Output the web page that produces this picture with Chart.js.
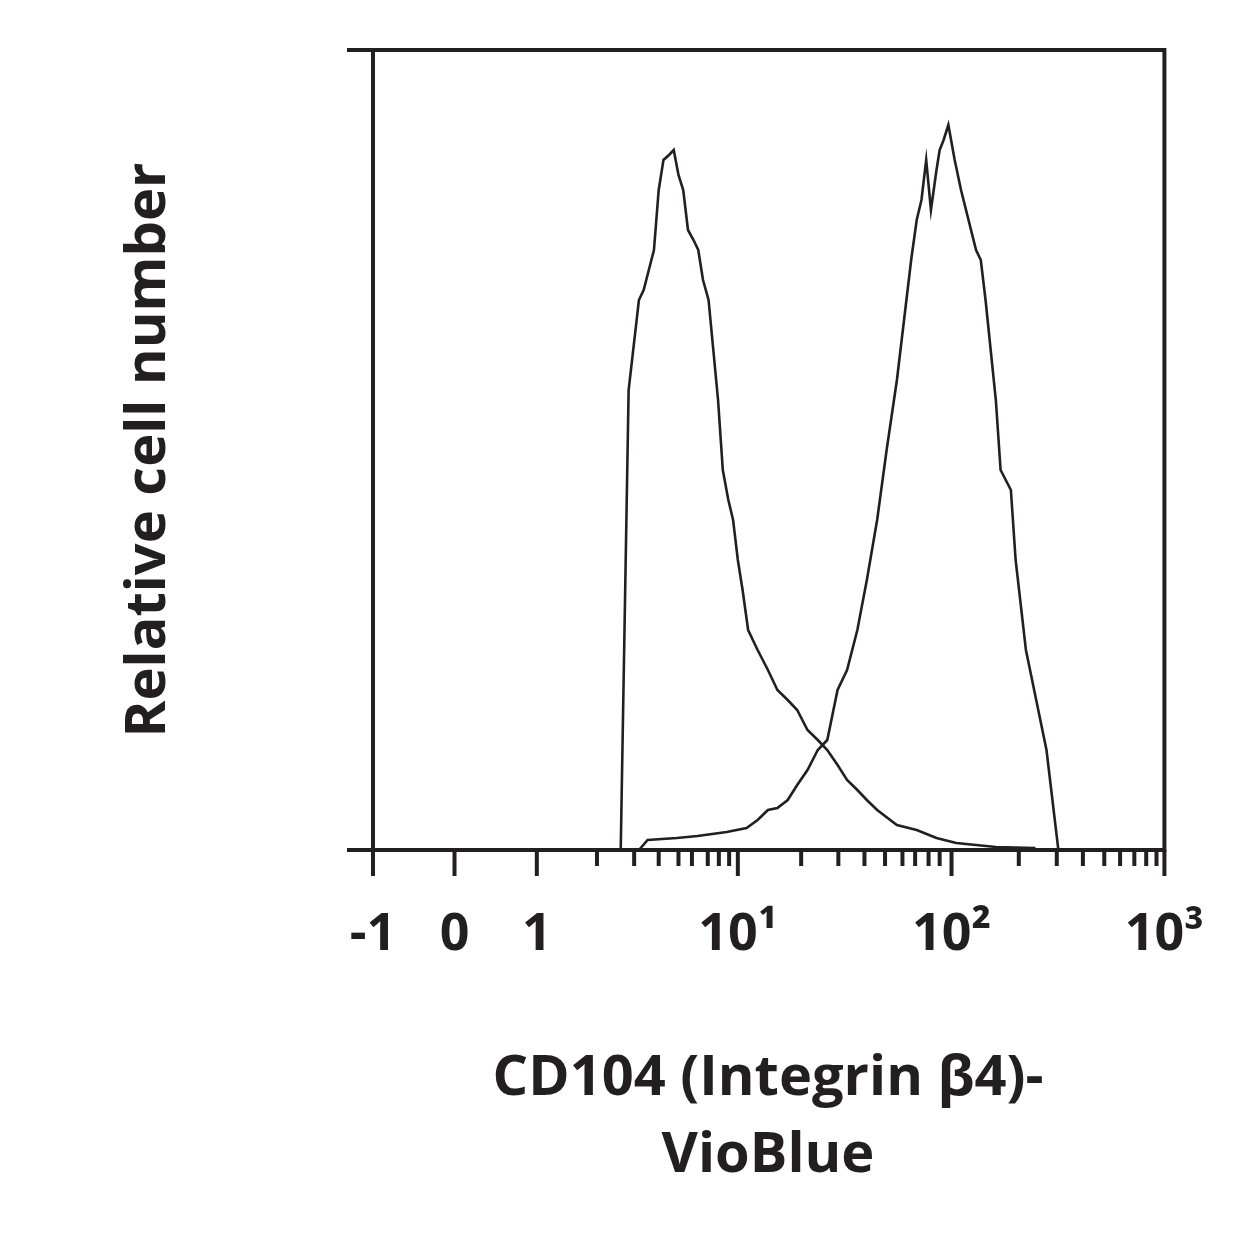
<!DOCTYPE html>
<html><head><meta charset="utf-8">
<script src="https://cdn.jsdelivr.net/npm/chart.js@4/dist/chart.umd.min.js"></script>
<style>body{margin:0;background:#fff}canvas{display:block}</style>
</head><body>
<div style="width:1250px;height:1250px"><canvas id="c"></canvas></div>
<script>
// x in display channels (biexponential axis rendered 0..1000), y in relative counts 0..800
const majorTicks = [0, 103, 207, 461, 731, 1000];
const majorLabels = ['-1', '0', '1', '10\u00B9', '10\u00B2', '10\u00B3'];
const minorTicks = [283, 330, 361, 386, 403, 423, 437, 450, 541, 588, 621, 647, 669, 685, 702, 716, 816, 864, 897, 924, 944, 962, 977, 990];

const unstainedX = [313, 323, 336, 342, 355, 361, 367, 374, 380, 386, 392, 398, 405, 411, 417, 424, 430, 436, 442, 449, 455, 461, 467, 474, 486, 499, 511, 524, 536, 549, 562, 574, 587, 599, 612, 624, 637, 662, 687, 712, 737, 762, 787, 837];
const unstainedY = [0, 460, 550, 560, 600, 660, 690, 695, 700, 675, 660, 620, 610, 600, 570, 550, 500, 450, 380, 350, 330, 290, 260, 220, 200, 180, 160, 150, 140, 120, 110, 100, 85, 70, 60, 50, 40, 25, 20, 12, 7, 5, 3, 2];
const stainedX = [336, 347, 384, 410, 447, 472, 486, 499, 511, 524, 536, 549, 562, 574, 587, 599, 612, 624, 637, 649, 662, 674, 680, 687, 693, 699, 705, 712, 716, 721, 727, 735, 743, 762, 768, 774, 787, 793, 806, 812, 825, 838, 851, 866];
const stainedY = [0, 10, 12, 14, 18, 22, 30, 40, 42, 50, 65, 80, 100, 110, 160, 180, 220, 270, 330, 400, 470, 550, 590, 630, 650, 690, 640, 680, 700, 710, 725, 690, 660, 600, 590, 550, 450, 380, 360, 290, 200, 150, 100, 0];

const toPts = (xs, ys) => xs.map((x, i) => ({x: x, y: ys[i]}));
const FONT = '"Open Sans", "Liberation Sans", sans-serif';

const frame = {
  id: 'frame',
  afterDraw(chart) {
    const {ctx, chartArea: a, scales: {x, y}} = chart;
    ctx.save();
    ctx.strokeStyle = '#231f20';
    ctx.lineWidth = 4;
    ctx.strokeRect(a.left, a.top, a.right - a.left, a.bottom - a.top);
    ctx.beginPath();
    majorTicks.forEach(v => { const p = x.getPixelForValue(v); ctx.moveTo(p, a.bottom); ctx.lineTo(p, a.bottom + 26); });
    minorTicks.forEach(v => { const p = x.getPixelForValue(v); ctx.moveTo(p, a.bottom); ctx.lineTo(p, a.bottom + 16); });
    [0, 800].forEach(v => { const p = y.getPixelForValue(v); ctx.moveTo(a.left, p); ctx.lineTo(a.left - 26, p); });
    ctx.stroke();
    ctx.fillStyle = '#231f20';
    ctx.font = 'bold 56px ' + FONT;
    ctx.textAlign = 'center';
    ctx.fillText('CD104 (Integrin \u03B24)-', 768, 1095);
    ctx.fillText('VioBlue', 768, 1172);
    ctx.translate(165, 450);
    ctx.rotate(-Math.PI / 2);
    ctx.fillText('Relative cell number', 0, 0);
    ctx.restore();
  }
};

new Chart(document.getElementById('c'), {
  type: 'line',
  data: {
    datasets: [
      {data: toPts(unstainedX, unstainedY), borderColor: '#231f20', borderWidth: 2.6, pointRadius: 0, fill: false, tension: 0},
      {data: toPts(stainedX, stainedY), borderColor: '#231f20', borderWidth: 2.6, pointRadius: 0, fill: false, tension: 0}
    ]
  },
  options: {
    responsive: true, maintainAspectRatio: false, animation: false,
    layout: {padding: {top: 50, right: 75, left: 0, bottom: 0}},
    plugins: {legend: {display: false}, tooltip: {enabled: false}},
    scales: {
      x: {
        type: 'linear', min: 0, max: 1000,
        grid: {display: false}, border: {display: false},
        afterFit: s => { s.height = 400; },
        afterBuildTicks: s => { s.ticks = majorTicks.map(v => ({value: v})); },
        ticks: {
          autoSkip: false, maxRotation: 0, padding: 46, color: '#231f20',
          font: {family: FONT, size: 52, weight: 'bold'},
          callback: (v) => majorLabels[majorTicks.indexOf(v)]
        }
      },
      y: {
        min: 0, max: 800,
        grid: {display: false}, border: {display: false},
        afterFit: s => { s.width = 373; },
        ticks: {display: false}
      }
    }
  },
  plugins: [frame]
});
</script>
</body></html>
